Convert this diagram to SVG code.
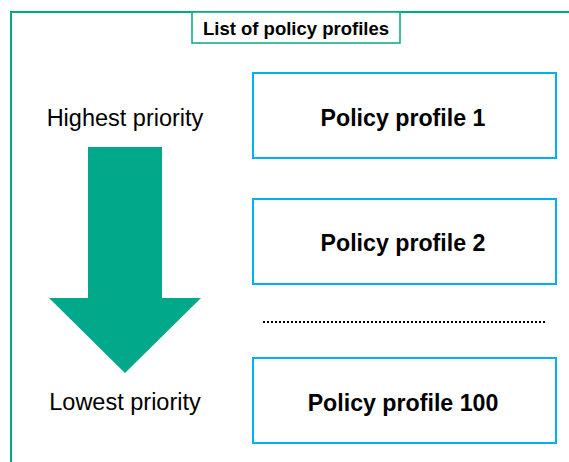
<svg xmlns="http://www.w3.org/2000/svg" width="569" height="462" viewBox="0 0 569 462">
<style>
.frame{fill:none;stroke:#01a982;stroke-width:2}
.box{fill:#fff;stroke:#00b0f0;stroke-width:2}
.lbl{font-family:"Liberation Sans",Arial,sans-serif;font-size:23.5px;text-anchor:middle;fill:#000}
.b{font-weight:bold;font-size:23.2px}
</style>
<rect width="569" height="462" fill="#fff"/>
<g id="frame">
<rect class="frame" x="11" y="12" width="570" height="470"/>
<rect x="192" y="12" width="208" height="31" fill="#fff" stroke="#01a982" stroke-width="1.5"/>
<text class="lbl b" x="296" y="34.5" style="font-size:18.5px">List of policy profiles</text>
</g>
<g id="arrow">
<polygon points="88,147 162,147 162,298 201,298 125,373 49,298 88,298" fill="#01a98a"/>
</g>
<g id="highest"><text class="lbl" x="125" y="126">Highest priority</text></g>
<g id="lowest"><text class="lbl" x="125" y="410">Lowest priority</text></g>
<g id="p1"><rect class="box" x="253" y="73" width="303" height="85"/><text class="lbl b" x="403" y="126">Policy profile 1</text></g>
<g id="p2"><rect class="box" x="253" y="199" width="303" height="85"/><text class="lbl b" x="403" y="250.5">Policy profile 2</text></g>
<g id="dots"><line x1="263" y1="322" x2="545" y2="322" stroke="#000" stroke-width="2" stroke-dasharray="2,2"/></g>
<g id="p100"><rect class="box" x="253" y="358" width="303" height="85"/><text class="lbl b" x="403" y="410.5">Policy profile 100</text></g>
</svg>
